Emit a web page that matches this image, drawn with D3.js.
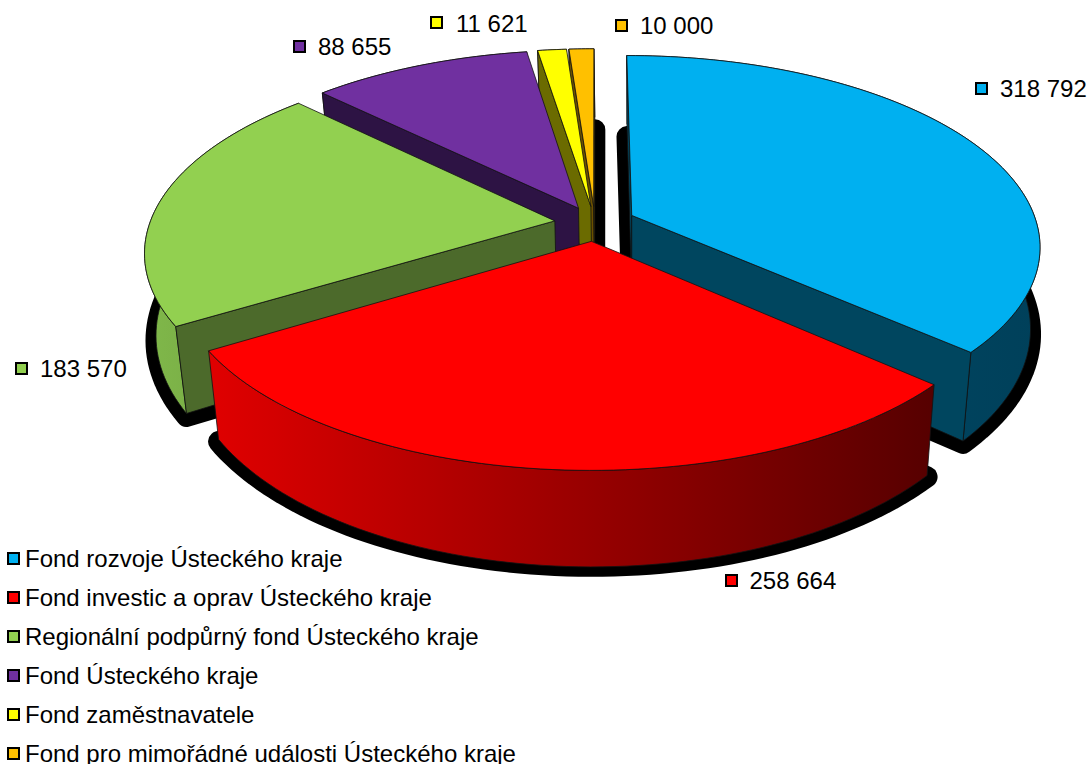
<!DOCTYPE html>
<html><head><meta charset="utf-8">
<style>html,body{margin:0;padding:0;background:#fff}svg{display:block}text{font-family:"Liberation Sans",Arial,sans-serif;font-size:24px;fill:#000}</style>
<script src="https://cdnjs.cloudflare.com/ajax/libs/d3/7.8.5/d3.min.js"></script>
</head><body><svg id="c" width="1089" height="764"></svg>
<script>
const categories=["Fond rozvoje Ústeckého kraje","Fond investic a oprav Ústeckého kraje","Regionální podpůrný fond Ústeckého kraje","Fond Ústeckého kraje","Fond zaměstnavatele","Fond pro mimořádné události Ústeckého kraje"];
const values=[318792,258664,183570,88655,11621,10000];
const valueLabels=["318 792","258 664","183 570","88 655","11 621","10 000"];
const topColors=["#00B0F0","#FF0000","#92D050","#7030A0","#FFFF00","#FFC000"];
const wallColors=["#00465F","#660000","#4C6A2B","#2D1344","#6B6B00","#6B5000"];
const rimLeft=["#004E6C","#E00000","#80B84A","#3A1A55","#808000","#806000"];
const rimRight=["#00405A","#560000","#6F9F40","#2D1344","#6B6B00","#6B5000"];
const keyX=[976,726,16,294,431,616];
const keyY=[89,581,369,47,23,26];
const textX=[1000,749.5,40,318,456,640];
const textY=[97,589,377,55,32,34];
const explodeBy=[0.1,0.097,0.1,0.09,0.09,0.09];
const drawOrder=[5,4,3,2,0,1];

const cx=595,cy=223,R=405,Ry=187,k=0.156,vx=635,shrink=0.9766,D=80;
const svg=d3.select("#c");
const defs=svg.append("defs");
const arcs=d3.pie().sort(null).value(d=>d)(values);

function project(px,py,low,extra){
  const w=1-k*py;
  let x=cx+R*px/w,y=cy+Ry*py/w;
  if(low){x=vx+(x-vx)*shrink;y=y+D/w+(extra?(1-py)*6:0);}
  return [x,y];
}
function geom(a,i){
  const mid=(a.startAngle+a.endAngle)/2,e=explodeBy[i];
  const ox=e*Math.sin(mid),oy=-e*Math.cos(mid);
  const n=Math.max(6,Math.ceil((a.endAngle-a.startAngle)*40));
  const rim=d3.range(n+1).map(j=>{
    const t=a.startAngle+(a.endAngle-a.startAngle)*j/n;
    return [ox+Math.sin(t),oy-Math.cos(t)];
  });
  return {apex:[ox,oy],rim};
}
const line=d3.line();
const closed=pts=>line(pts)+"Z";

const g=arcs.map(geom);
const shadow=svg.append("g");
g.forEach(s=>{
  const pts=[s.apex,...s.rim].map(p=>project(p[0],p[1],true,true));
  shadow.append("path").attr("d",closed(pts)).attr("fill","#000").attr("stroke","#000").attr("stroke-width",21).attr("stroke-linejoin","round");
});
const body=svg.append("g");
drawOrder.forEach(i=>{
  const s=g[i];
  const top=s.rim.map(p=>project(p[0],p[1],false));
  const low=s.rim.map(p=>project(p[0],p[1],true));
  const a0=project(s.apex[0],s.apex[1],false),a1=project(s.apex[0],s.apex[1],true);
  const ln=top.length-1;
  const gid="rim"+i;
  const xs=top.concat(low).map(p=>p[0]);
  const gr=defs.append("linearGradient").attr("id",gid).attr("gradientUnits","userSpaceOnUse")
    .attr("x1",d3.min(xs)).attr("x2",d3.max(xs)).attr("y1",0).attr("y2",0);
  gr.append("stop").attr("offset",0).attr("stop-color",rimLeft[i]);
  gr.append("stop").attr("offset",1).attr("stop-color",rimRight[i]);
  const add=(d,f)=>body.append("path").attr("d",d).attr("fill",f).attr("stroke","#111").attr("stroke-width",0.8).attr("stroke-linejoin","round");
  const startWall=[a0,top[0],low[0],a1],endWall=[a0,top[ln],low[ln],a1];
  add(closed(top.concat(low.slice().reverse())),`url(#${gid})`);
  // back-face culling of the two radial walls
  if(d3.polygonArea(startWall)>0) add(closed(startWall),wallColors[i]);
  if(d3.polygonArea(endWall)<0) add(closed(endWall),wallColors[i]);
  add(closed([a0,...top]),topColors[i]);
});
const labels=svg.append("g");
values.forEach((v,i)=>{
  labels.append("rect").attr("x",keyX[i]).attr("y",keyY[i]-6).attr("width",11).attr("height",11)
    .attr("fill",topColors[i]).attr("stroke","#000").attr("stroke-width",2);
  labels.append("text").attr("x",textX[i]).attr("y",textY[i]).text(valueLabels[i]);
});
const ly=d3.scalePoint().domain(categories).range([559,754]);
const legend=svg.append("g");
categories.forEach((c,i)=>{
  legend.append("rect").attr("x",8).attr("y",ly(c)-6).attr("width",11).attr("height",11)
    .attr("fill",topColors[i]).attr("stroke","#000").attr("stroke-width",2);
  legend.append("text").attr("x",25).attr("y",ly(c)+8).text(c);
});
</script></body></html>
